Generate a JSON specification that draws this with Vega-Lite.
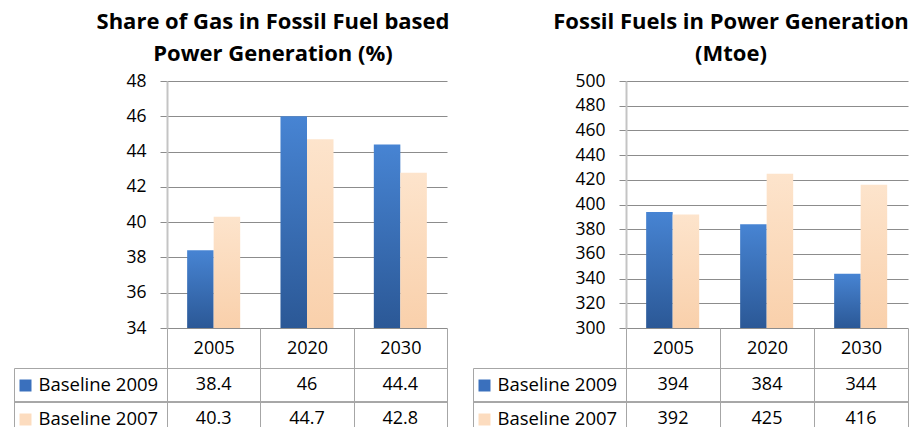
{
  "$schema": "https://vega.github.io/schema/vega-lite/v6.json",
  "padding": {"left": 12, "top": 11, "right": 6, "bottom": 0},
  "background": "white",
  "config": {
    "font": "Open Sans",
    "view": {"stroke": null},
    "axis": {"labelFont": "Open Sans", "labelFontSize": 17.5, "labelColor": "black", "title": null},
    "title": {"font": "Open Sans", "fontSize": 22, "fontWeight": "bold", "color": "black", "lineHeight": 32, "anchor": "middle", "frame": "group", "offset": 6}
  },
  "datasets": {
    "gas": [
      {"year": "2005", "series": "Baseline 2009", "value": 38.4},
      {"year": "2020", "series": "Baseline 2009", "value": 46},
      {"year": "2030", "series": "Baseline 2009", "value": 44.4},
      {"year": "2005", "series": "Baseline 2007", "value": 40.3},
      {"year": "2020", "series": "Baseline 2007", "value": 44.7},
      {"year": "2030", "series": "Baseline 2007", "value": 42.8}
    ],
    "fossil": [
      {"year": "2005", "series": "Baseline 2009", "value": 394},
      {"year": "2020", "series": "Baseline 2009", "value": 384},
      {"year": "2030", "series": "Baseline 2009", "value": 344},
      {"year": "2005", "series": "Baseline 2007", "value": 392},
      {"year": "2020", "series": "Baseline 2007", "value": 425},
      {"year": "2030", "series": "Baseline 2007", "value": 416}
    ]
  },
  "columns": 5,
  "spacing": {"row": 40, "column": 0},
  "bounds": "flush",
  "concat": [
    {
      "width": 153, "height": 247,
      "data": {"name": "gas"},
      "mark": {"type": "text"},
      "encoding": {"text": {"value": ""}}
    },
    {
      "width": 280, "height": 247,
      "data": {"name": "gas"},
      "title": {"text": ["Share of Gas in Fossil Fuel based", "Power Generation (%)"], "dx": -34},
      "mark": {"type": "bar"},
      "encoding": {
        "x": {"field": "year", "type": "nominal", "scale": {"paddingInner": 0, "paddingOuter": 0},
          "axis": {"orient": "bottom", "tickBand": "extent", "tickSize": 40, "tickColor": "#a6a6a6", "domain": false, "grid": false, "labelAngle": 0, "labelBaseline": "middle", "labelPadding": -20, "labelFontSize": 18}},
        "xOffset": {"field": "series", "type": "nominal", "sort": ["Baseline 2009", "Baseline 2007"], "scale": {"paddingInner": 0, "paddingOuter": 0.76}},
        "y": {"field": "value", "type": "quantitative", "scale": {"domain": [34, 48], "zero": false, "nice": false},
          "axis": {"values": [34, 36, 38, 40, 42, 44, 46, 48], "grid": true, "gridColor": "#8c8c8c", "tickColor": "#8c8c8c", "tickSize": 7, "domainColor": "#c4c4c4", "domainWidth": 2, "labelPadding": 14}},
        "y2": {"datum": 34},
        "fill": {
          "condition": {"test": "datum.series === 'Baseline 2009'", "value": {"gradient": "linear", "x1": 0, "y1": 0, "x2": 0, "y2": 1, "stops": [{"offset": 0, "color": "#4784d3"}, {"offset": 1, "color": "#2b5896"}]}},
          "value": {"gradient": "linear", "x1": 0, "y1": 0, "x2": 0, "y2": 1, "stops": [{"offset": 0, "color": "#fde4cc"}, {"offset": 1, "color": "#f9d0ab"}]}
        }
      }
    },
    {
      "width": 26, "height": 247,
      "data": {"name": "gas"},
      "mark": {"type": "text"},
      "encoding": {"text": {"value": ""}}
    },
    {
      "width": 153, "height": 247,
      "data": {"name": "fossil"},
      "mark": {"type": "text"},
      "encoding": {"text": {"value": ""}}
    },
    {
      "width": 282, "height": 247,
      "data": {"name": "fossil"},
      "title": {"text": ["Fossil Fuels in Power Generation", "(Mtoe)"], "dx": -36},
      "mark": {"type": "bar"},
      "encoding": {
        "x": {"field": "year", "type": "nominal", "scale": {"paddingInner": 0, "paddingOuter": 0},
          "axis": {"orient": "bottom", "tickBand": "extent", "tickSize": 40, "tickColor": "#a6a6a6", "domain": false, "grid": false, "labelAngle": 0, "labelBaseline": "middle", "labelPadding": -20, "labelFontSize": 18}},
        "xOffset": {"field": "series", "type": "nominal", "sort": ["Baseline 2009", "Baseline 2007"], "scale": {"paddingInner": 0, "paddingOuter": 0.76}},
        "y": {"field": "value", "type": "quantitative", "scale": {"domain": [300, 500], "zero": false, "nice": false},
          "axis": {"values": [300, 320, 340, 360, 380, 400, 420, 440, 460, 480, 500], "grid": true, "gridColor": "#8c8c8c", "tickColor": "#8c8c8c", "tickSize": 7, "domainColor": "#c4c4c4", "domainWidth": 2, "labelPadding": 14}},
        "y2": {"datum": 300},
        "fill": {
          "condition": {"test": "datum.series === 'Baseline 2009'", "value": {"gradient": "linear", "x1": 0, "y1": 0, "x2": 0, "y2": 1, "stops": [{"offset": 0, "color": "#4784d3"}, {"offset": 1, "color": "#2b5896"}]}},
          "value": {"gradient": "linear", "x1": 0, "y1": 0, "x2": 0, "y2": 1, "stops": [{"offset": 0, "color": "#fde4cc"}, {"offset": 1, "color": "#f9d0ab"}]}
        }
      }
    },
    {
      "width": 153, "height": 59,
      "data": {"name": "gas"},
      "view": {"stroke": "#a6a6a6"},
      "encoding": {
        "y": {"field": "series", "type": "nominal", "sort": ["Baseline 2009", "Baseline 2007"], "scale": {"range": [0, 68], "paddingInner": 0, "paddingOuter": 0},
          "axis": {"orient": "left", "offset": -17, "domain": false, "grid": false, "tickSize": 12, "tickWidth": 12,
            "tickColor": {"condition": {"test": "datum.value === 'Baseline 2009'", "value": "#3a70bd"}, "value": "#fcdcbf"},
            "labelAlign": "left", "labelPadding": -19, "labelBaseline": "middle", "labelFontSize": 18.5}}
      },
      "layer": [
        {"mark": {"type": "text"}, "encoding": {"text": {"value": ""}}},
        {"mark": {"type": "rule", "color": "#a6a6a6"}, "encoding": {"y": {"datum": "Baseline 2007", "type": "nominal", "bandPosition": 0}}}
      ]
    },
    {
      "width": 280, "height": 59,
      "data": {"name": "gas"},
      "view": {"stroke": "#a6a6a6"},
      "encoding": {
        "x": {"field": "year", "type": "nominal", "scale": {"paddingInner": 0, "paddingOuter": 0},
          "axis": {"orient": "top", "labels": false, "ticks": false, "domain": false, "grid": true, "tickBand": "extent", "gridColor": "#a6a6a6"}},
        "y": {"field": "series", "type": "nominal", "sort": ["Baseline 2009", "Baseline 2007"], "scale": {"range": [0, 68], "paddingInner": 0, "paddingOuter": 0}, "axis": null}
      },
      "layer": [
        {"mark": {"type": "text", "font": "Open Sans", "fontSize": 18, "color": "black"}, "encoding": {"text": {"field": "value", "type": "quantitative"}}},
        {"mark": {"type": "rule", "color": "#a6a6a6"}, "encoding": {"x": null, "y": {"datum": "Baseline 2007", "type": "nominal", "bandPosition": 0}}}
      ]
    },
    {
      "width": 26, "height": 59,
      "data": {"name": "gas"},
      "mark": {"type": "text"},
      "encoding": {"text": {"value": ""}}
    },
    {
      "width": 153, "height": 59,
      "data": {"name": "fossil"},
      "view": {"stroke": "#a6a6a6"},
      "encoding": {
        "y": {"field": "series", "type": "nominal", "sort": ["Baseline 2009", "Baseline 2007"], "scale": {"range": [0, 68], "paddingInner": 0, "paddingOuter": 0},
          "axis": {"orient": "left", "offset": -17, "domain": false, "grid": false, "tickSize": 12, "tickWidth": 12,
            "tickColor": {"condition": {"test": "datum.value === 'Baseline 2009'", "value": "#3a70bd"}, "value": "#fcdcbf"},
            "labelAlign": "left", "labelPadding": -19, "labelBaseline": "middle", "labelFontSize": 18.5}}
      },
      "layer": [
        {"mark": {"type": "text"}, "encoding": {"text": {"value": ""}}},
        {"mark": {"type": "rule", "color": "#a6a6a6"}, "encoding": {"y": {"datum": "Baseline 2007", "type": "nominal", "bandPosition": 0}}}
      ]
    },
    {
      "width": 282, "height": 59,
      "data": {"name": "fossil"},
      "view": {"stroke": "#a6a6a6"},
      "encoding": {
        "x": {"field": "year", "type": "nominal", "scale": {"paddingInner": 0, "paddingOuter": 0},
          "axis": {"orient": "top", "labels": false, "ticks": false, "domain": false, "grid": true, "tickBand": "extent", "gridColor": "#a6a6a6"}},
        "y": {"field": "series", "type": "nominal", "sort": ["Baseline 2009", "Baseline 2007"], "scale": {"range": [0, 68], "paddingInner": 0, "paddingOuter": 0}, "axis": null}
      },
      "layer": [
        {"mark": {"type": "text", "font": "Open Sans", "fontSize": 18, "color": "black"}, "encoding": {"text": {"field": "value", "type": "quantitative"}}},
        {"mark": {"type": "rule", "color": "#a6a6a6"}, "encoding": {"x": null, "y": {"datum": "Baseline 2007", "type": "nominal", "bandPosition": 0}}}
      ]
    }
  ]
}
